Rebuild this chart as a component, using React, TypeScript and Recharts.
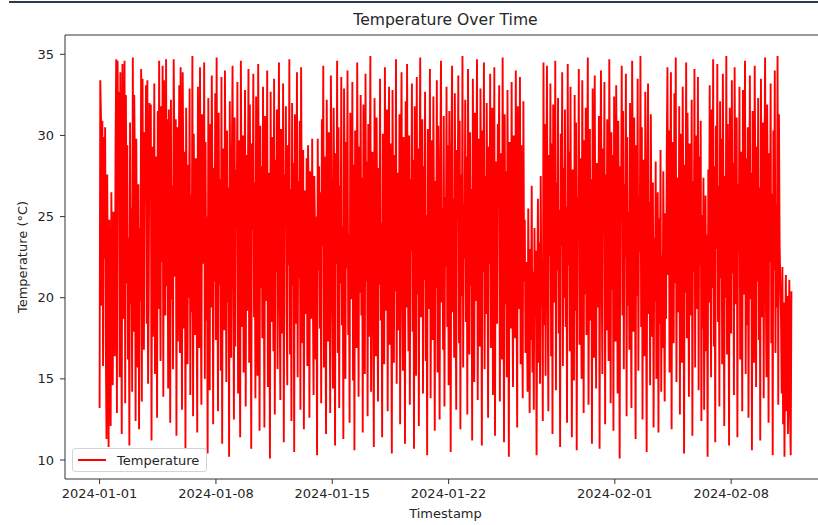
import React from 'react';
import { LineChart, Line, XAxis, YAxis, ReferenceLine, Legend } from 'recharts';

// Hourly temperature readings, one array per week (24 values per row = one day)
const week1Jan01 = [
  13.2,33.4,31.2,19.5,30.9,15.8,29.9,22.4,30.5,17.1,11.3,27.6,20.2,10.8,24.8,18.3,12.1,26.5,19.0,14.6,25.3,21.7,16.4,28.9,
  34.7,12.9,34.6,27.2,32.7,15.1,33.9,22.8,11.6,34.4,18.7,26.1,34.6,13.5,32.5,20.9,29.4,16.2,23.7,10.9,30.8,19.6,25.5,14.2,
  34.8,17.9,32.5,28.3,12.4,29.8,21.1,15.7,27.0,11.9,24.3,19.8,34.1,13.6,33.5,22.6,16.8,30.2,25.9,33.1,18.4,33.4,14.7,20.5,
  32.0,26.7,31.9,11.2,29.3,17.6,23.9,33.2,15.3,21.8,28.7,12.6,31.5,19.3,34.6,24.6,16.1,31.8,22.2,34.3,13.9,33.4,27.8,18.9,
  34.7,20.7,31.0,14.4,31.6,25.1,12.3,32.2,19.9,26.9,15.6,34.7,29.1,21.3,31.0,11.5,30.5,17.3,24.1,33.1,16.6,34.2,22.9,13.1,
  33.9,27.4,18.1,29.0,10.6,31.7,23.4,15.9,28.2,20.0,32.9,14.0,26.3,19.1,34.9,12.7,30.1,24.4,17.7,28.6,21.5,11.7,33.0,25.7,
  16.9,34.2,20.4,13.4,31.3,27.5,22.1,34.5,15.0,29.6,18.6,25.0,10.4,32.3,23.1,14.3,30.7,19.4,33.7,26.4,12.2,28.0,21.0,32.6,
];

const week2Jan08 = [
  17.4,34.8,24.0,13.0,31.4,20.8,27.3,15.5,33.6,11.0,29.2,22.5,18.0,34.0,25.6,14.8,30.3,19.7,26.8,10.2,32.1,23.6,16.3,28.4,
  34.3,21.9,12.5,31.1,17.0,27.9,24.7,33.3,14.1,29.7,20.3,11.4,34.6,26.0,18.2,30.0,15.4,23.3,32.8,13.3,28.8,19.2,25.2,34.1,
  16.0,31.9,22.7,10.7,29.5,24.2,33.8,18.8,27.1,13.8,32.4,21.4,15.2,34.4,26.6,11.8,30.6,20.6,28.1,17.5,33.0,23.0,12.0,31.2,
  25.4,19.8,34.0,14.5,27.7,22.3,10.1,32.7,18.5,29.9,24.9,16.7,33.5,12.8,28.5,21.6,31.6,15.6,26.2,34.5,20.1,13.7,30.4,23.8,
  17.8,33.2,11.1,27.6,24.5,31.8,19.3,14.6,29.4,22.0,34.7,16.5,26.7,12.4,32.0,20.7,28.3,10.5,31.3,25.8,18.4,33.9,15.1,27.2,
  21.2,30.9,13.1,34.2,24.3,17.2,29.1,11.9,26.6,22.4,19.0,28.6,15.8,29.4,26.1,12.6,27.8,23.5,18.7,29.8,20.0,14.0,27.5,24.5,
  16.2,25.0,10.3,29.8,21.7,28.1,18.1,26.5,13.5,31.0,23.2,34.3,15.7,28.7,20.5,11.6,32.2,24.8,17.3,30.2,22.6,12.9,33.7,27.0,
];

const week3Jan15 = [
  19.6,14.4,31.7,25.3,10.9,28.9,22.1,34.6,16.6,30.5,13.2,26.9,20.9,33.6,18.3,24.4,11.3,32.9,27.8,15.0,29.6,21.8,34.0,17.7,
  23.9,12.3,31.4,26.3,19.9,33.3,14.9,28.2,10.6,30.3,22.8,16.9,34.5,25.6,13.9,29.3,20.3,32.5,18.9,27.4,11.7,31.9,24.1,15.3,
  33.8,21.0,28.4,12.7,30.7,17.6,25.9,34.9,14.2,22.2,29.0,19.5,10.8,32.3,26.8,16.4,31.1,23.7,13.6,28.0,20.8,33.5,18.6,24.6,
  11.4,30.1,27.1,15.9,34.2,22.0,19.2,31.6,13.0,26.0,33.0,17.1,29.5,21.5,10.4,32.8,24.2,16.0,28.8,20.4,34.7,14.7,27.7,23.1,
  18.0,31.3,12.2,25.7,33.9,21.3,15.5,29.9,26.4,11.0,32.1,19.4,34.4,23.4,16.7,30.0,13.4,27.3,22.9,33.2,17.9,28.5,10.7,31.8,
  24.7,15.2,33.6,20.2,29.2,12.1,26.6,34.8,18.8,23.0,31.0,14.1,28.1,21.1,32.7,16.1,25.1,10.3,30.4,27.9,19.3,34.1,13.8,22.7,
  29.7,17.4,32.4,24.0,11.8,27.2,20.6,33.4,15.4,30.6,22.5,12.5,28.3,34.6,19.7,25.5,16.8,31.2,13.3,26.2,21.9,33.0,18.2,29.4,
];

const week4Jan22 = [
  14.6,31.5,23.3,10.5,28.6,34.3,19.1,26.1,16.3,32.6,21.2,13.1,29.1,24.9,33.7,17.2,30.9,11.9,27.6,20.1,34.9,15.7,25.8,22.4,
  32.2,18.5,28.7,12.8,34.1,23.8,16.5,30.2,20.7,26.7,11.2,33.5,24.5,14.8,31.4,19.8,27.0,34.7,13.7,22.3,29.8,17.0,32.9,25.3,
  10.9,30.3,21.6,34.5,15.6,27.5,19.0,32.0,24.3,12.6,29.3,22.1,33.8,16.9,26.3,31.7,14.0,20.4,34.2,11.5,28.4,23.6,18.4,30.7,
  25.9,33.1,13.6,28.9,21.4,16.2,34.8,24.1,11.1,31.3,19.6,27.8,15.1,32.8,22.9,10.2,29.6,26.5,18.1,33.3,20.9,14.5,30.0,23.7,
  17.5,34.0,21.4,12.0,31.8,22.7,19.3,33.6,15.9,29.4,20.0,13.8,32.1,21.0,24.8,16.6,22.2,18.7,14.2,25.5,19.9,12.9,23.0,17.4,
  26.9,15.4,21.6,13.1,24.3,18.8,22.9,10.3,20.6,26.1,16.0,23.4,14.7,27.5,19.5,21.8,12.4,34.5,18.3,30.7,15.2,25.7,34.3,20.3,
  13.0,28.8,22.6,33.2,16.4,29.5,11.6,31.9,24.7,19.7,34.6,14.3,27.1,21.7,32.3,17.8,25.4,10.8,30.1,23.2,33.9,15.8,28.0,20.0,
];

const week5Jan29 = [
  31.6,18.2,25.6,12.3,34.4,22.0,29.0,16.7,33.0,20.8,11.4,27.9,24.6,14.9,32.5,19.2,30.8,10.6,26.2,23.5,34.1,17.1,28.6,21.3,
  15.0,33.4,24.4,12.9,29.7,20.2,31.7,17.7,26.0,34.8,13.4,22.8,30.4,18.6,27.3,11.0,32.9,25.2,16.3,33.7,21.5,14.4,28.3,23.9,
  19.4,31.2,10.7,26.6,34.0,21.9,15.3,29.2,24.0,33.3,12.2,27.6,18.0,31.0,22.2,16.1,34.7,25.6,13.5,30.2,20.5,28.8,11.8,32.4,
  23.1,17.3,33.1,26.4,14.1,30.9,21.2,10.1,28.1,24.8,34.3,18.9,31.5,15.6,27.0,22.5,33.8,12.7,29.9,19.5,25.3,16.8,32.0,20.7,
  13.2,34.6,27.7,17.9,31.1,23.3,11.3,29.4,20.1,33.5,15.5,26.3,22.8,34.9,18.2,30.5,12.5,28.5,24.3,16.4,32.7,21.0,10.5,27.9,
  33.2,19.0,25.9,14.6,31.3,22.4,17.6,27.1,12.0,23.7,19.8,28.4,15.0,21.9,26.5,11.7,24.9,18.4,29.1,14.2,22.6,16.9,27.8,20.4,
  13.6,25.2,18.7,28.9,34.2,21.4,30.3,15.4,26.7,33.9,11.9,29.6,23.5,17.2,32.6,20.9,34.8,14.8,27.4,24.5,19.1,31.8,12.8,30.1,
];

const week6Feb05 = [
  22.1,16.0,33.0,25.8,10.4,28.2,20.3,34.5,17.5,31.4,23.8,13.9,29.5,26.2,18.9,32.2,11.5,27.2,21.6,34.1,15.7,30.0,24.7,19.3,
  33.6,14.3,28.7,22.0,30.9,12.4,25.1,18.1,27.4,13.1,21.8,26.3,16.7,23.9,10.2,27.9,19.7,33.1,24.2,15.1,31.6,20.6,34.7,17.0,
  28.1,11.1,30.6,23.0,34.4,18.5,26.9,13.3,32.1,21.2,29.8,15.9,33.8,24.6,12.1,27.5,20.0,34.9,16.5,30.7,22.3,10.9,31.7,25.4,
  17.8,33.4,21.5,28.3,14.0,34.2,25.0,19.6,31.1,11.4,27.0,22.9,33.0,16.2,29.0,24.1,13.0,32.8,20.2,26.1,34.6,15.3,28.6,18.3,
  30.5,12.6,23.4,33.7,19.9,27.7,10.6,31.5,22.7,16.0,34.3,25.5,14.5,29.3,21.0,32.3,17.4,26.8,11.2,33.5,23.6,18.8,30.8,13.8,
  27.3,34.8,20.8,15.1,31.9,24.3,12.3,28.9,22.2,33.2,17.2,26.4,10.3,30.3,21.7,34.0,16.6,25.7,19.4,34.9,13.4,31.3,23.2,20.9,
  18.6,14.1,21.9,12.2,19.7,10.2,17.3,21.4,13.0,20.1,11.6,16.4,21.1,12.8,10.3,20.4,
];

const temperatureSeries = [...week1Jan01, ...week2Jan08, ...week3Jan15, ...week4Jan22, ...week5Jan29, ...week6Feb05];

const START_MS = Date.UTC(2024, 0, 1, 0, 0, 0);
const HOUR_MS = 3600 * 1000;

const xTickLabels = ['2024-01-01', '2024-01-08', '2024-01-15', '2024-01-22', '2024-02-01', '2024-02-08'];
const yTicks = [10, 15, 20, 25, 30, 35];

const data = temperatureSeries.map((v, i) => ({ t: START_MS + i * HOUR_MS, temperature: v }));

const spanMs = (temperatureSeries.length - 1) * HOUR_MS;
const xMargin = spanMs * 0.05;
const X_MIN = START_MS - xMargin;
const X_MAX = START_MS + spanMs + xMargin;
const Y_MIN = 8.83;
const Y_MAX = 36.19;

const xTicks = xTickLabels.map((s) => Date.parse(s + 'T00:00:00Z'));
const fmtDate = (t: number) => new Date(t).toISOString().slice(0, 10);

const FONT = "'DejaVu Sans', sans-serif";
const TEXT = '#262626';
const AXIS = '#333333';

const LegendBox = () => (
  <div
    style={{
      boxSizing: 'border-box',
      width: 135,
      height: 24,
      border: '1px solid #d4d4d4',
      borderRadius: 3,
      background: 'rgba(255,255,255,0.85)',
      display: 'flex',
      alignItems: 'center',
      fontFamily: FONT,
      fontSize: 13,
      color: TEXT,
    }}
  >
    <svg width={40} height={10} style={{ marginLeft: 4, flex: 'none' }}>
      <line x1={1} y1={5} x2={29} y2={5} stroke="#ff0000" strokeWidth={2} />
    </svg>
    <span style={{ whiteSpace: 'nowrap' }}>Temperature</span>
  </div>
);

export default function App() {
  return (
    <div style={{ position: 'absolute', left: 0, top: 0, width: 818, height: 525, overflow: 'hidden', background: '#fff', fontFamily: FONT }}>
      <div style={{ position: 'absolute', left: 9, top: 1, width: 809, height: 2, background: '#2e3a48' }} />
      <LineChart width={840} height={525} data={data} margin={{ top: 35, right: 14, bottom: 0, left: 0 }}>
        <XAxis
          dataKey="t"
          type="number"
          domain={[X_MIN, X_MAX]}
          allowDataOverflow
          ticks={xTicks}
          tickFormatter={fmtDate}
          height={46}
          tickSize={5}
          tickMargin={5}
          stroke={AXIS}
          axisLine={{ stroke: AXIS, strokeWidth: 1 }}
          tickLine={{ stroke: AXIS }}
          tick={{ fontSize: 13, fill: TEXT, fontFamily: FONT }}
          interval={0}
          label={{
            content: (p: any) => {
              const vb = p && p.viewBox ? p.viewBox : null;
              const cx = vb && vb.width ? vb.x + vb.width / 2 : 445.5;
              return (
                <text x={cx} y={518} textAnchor="middle" fontSize={13} fill={TEXT} fontFamily={FONT}>
                  Timestamp
                </text>
              );
            },
          }}
        />
        <YAxis
          type="number"
          domain={[Y_MIN, Y_MAX]}
          allowDataOverflow
          ticks={yTicks}
          width={65}
          tickSize={5}
          tickMargin={6}
          stroke={AXIS}
          axisLine={{ stroke: AXIS, strokeWidth: 1 }}
          tickLine={{ stroke: AXIS }}
          tick={{ fontSize: 13, fill: TEXT, fontFamily: FONT }}
          interval={0}
          label={{
            content: () => (
              <text
                x={22}
                y={257}
                textAnchor="middle"
                dominantBaseline="central"
                transform="rotate(-90, 22, 257)"
                fontSize={13}
                fill={TEXT}
                fontFamily={FONT}
              >
                Temperature (°C)
              </text>
            ),
          }}
        />
        <ReferenceLine
          y={Y_MAX}
          stroke={AXIS}
          strokeWidth={1}
          label={{
            content: () => (
              <text x={445.5} y={25} textAnchor="middle" fontSize={15.6} fill={TEXT} fontFamily={FONT}>
                Temperature Over Time
              </text>
            ),
          }}
        />
        <ReferenceLine x={X_MAX} stroke={AXIS} strokeWidth={1} />
        <Line
          type="linear"
          dataKey="temperature"
          name="Temperature"
          stroke="#ff0000"
          strokeWidth={1.9}
          dot={false}
          activeDot={false}
          isAnimationActive={false}
        />
        <Legend
          layout="horizontal"
          verticalAlign="middle"
          align="center"
          wrapperStyle={{ left: 72, top: 448, width: 135, height: 24 }}
          content={() => <LegendBox />}
        />
      </LineChart>
    </div>
  );
}
